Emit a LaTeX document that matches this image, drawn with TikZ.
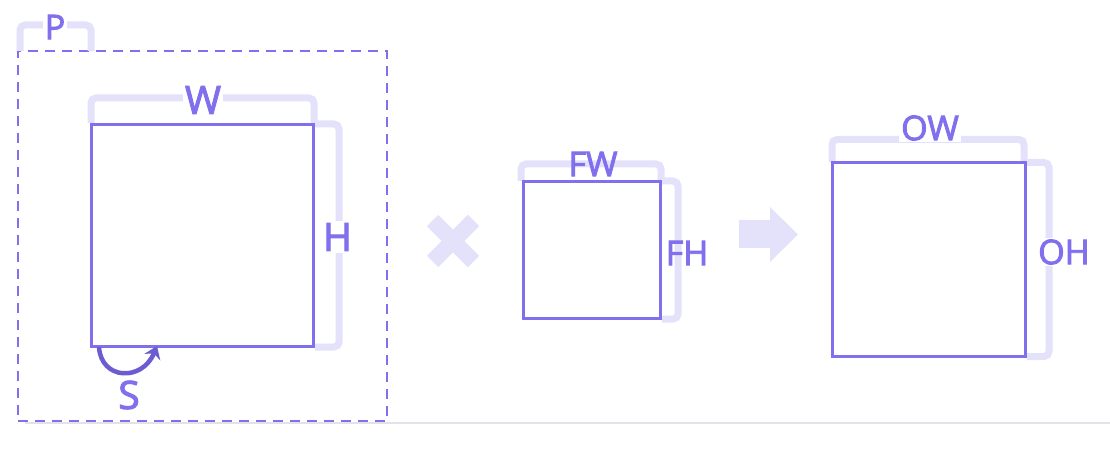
\documentclass[tikz,border=0pt]{standalone}
\usepackage{fontspec}
\setmainfont{Open Sans}[FakeBold=2.6, AutoFakeBold=2.6]
\usetikzlibrary{arrows.meta}
\definecolor{pur}{RGB}{128,112,238}
\definecolor{purd}{RGB}{108,92,210}
\definecolor{lav}{RGB}{228,225,250}
\definecolor{grayline}{RGB}{226,226,232}
\tikzset{
  boxr/.style={draw=pur, line width=2pt, fill=white},
  brk/.style={draw=lav, line width=7pt, rounded corners=5pt, line cap=butt},
  lblbig/.style={text=pur, font=\bfseries\fontsize{39}{41}\selectfont, inner sep=2pt},
  lblsm/.style={text=pur, font=\bfseries\fontsize{34}{36}\selectfont, inner sep=2pt},
  wbg/.style={fill=white},
}
\begin{document}
\begin{tikzpicture}[x=1pt,y=-1pt]
\useasboundingbox (0,0) rectangle (1110,454);
% baseline
\coordinate (gl1) at (25,422.5);
\coordinate (gl2) at (1110,422.5);
\draw[grayline, line width=2pt] (gl1) -- (gl2);
% padding dashed box
\node[draw=pur, line width=2.6pt, dash pattern=on 10pt off 7pt, minimum width=369pt, minimum height=370pt, inner sep=0pt] (pad) at (202.5,236) {};
% P bracket
\draw[brk] (20,51) -- (20,25) -- (91,25) -- (91,51);
\node[lblsm, wbg] (P) at (55,27) {P};
% input box
\node[boxr, minimum width=221pt, minimum height=221pt, inner sep=0pt] (in) at (202.5,235.5) {};
\draw[brk] (in.north west) ++(0,-1) -- ++(0,-25) -| ([yshift=-1pt]in.north east);
\draw[brk] (in.north east) ++(1,0) -- ++(24,0) |- ([xshift=1pt]in.south east);
\draw[boxr, fill=none] (in.south west) rectangle (in.north east);
\node[lblbig, wbg] (W) at (203,100) {W};
\node[lblbig, wbg] (H) at (337.5,237) {H};
% stride arrow
\coordinate (s1) at (99,347);
\coordinate (s2) at (157,346);
\draw[purd, line width=4.5pt, -{Stealth[length=12pt,width=17pt]}] (s1) .. controls (101,380) and (142,382) .. (s2);
\node[lblbig] (S) at (129,395) {S};
% cross
\draw[lav, line width=16pt] (432.5,220.5) -- (473.5,261.5);
\draw[lav, line width=16pt] (473.5,220.5) -- (432.5,261.5);
% filter box
\node[boxr, minimum width=136pt, minimum height=136pt, inner sep=0pt] (f) at (592,250) {};
\draw[brk] (f.north west) ++(-2,0) -- ++(0,-17) -- ++(140,0) -- ++(0,17);
\draw[brk] (f.north east) ++(1,0) -- ++(16,0) |- ([xshift=1pt]f.south east);
\draw[boxr, fill=none] (f.south west) rectangle (f.north east);
\node[lblsm] (FW) at (593,164) {FW};
\node[lblsm] (FH) at (687,253) {FH};
% block arrow
\fill[lav] (739,220) -- (770,220) -- (770,207) -- (798,234.5) -- (770,262) -- (770,248) -- (739,248) -- cycle;
% output box
\node[boxr, minimum width=192pt, minimum height=192pt, inner sep=0pt] (o) at (929,259.5) {};
\draw[brk] (o.north west) -- ++(0,-23) -- ++(192,0) -- ++(0,23);
\draw[brk] (o.north east) ++(1,0) -- ++(22,0) |- ([xshift=1pt]o.south east);
\draw[boxr, fill=none] (o.south west) rectangle (o.north east);
\node[lblsm, wbg] (OW) at (930,128) {OW};
\node[lblsm, wbg] (OH) at (1064,252) {OH};
\end{tikzpicture}
\end{document}
